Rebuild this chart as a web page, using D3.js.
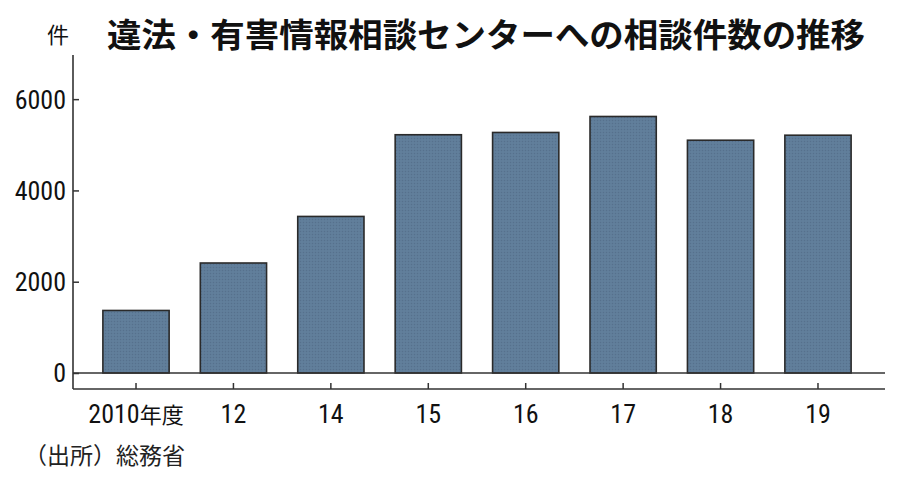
<!DOCTYPE html>
<html><head><meta charset="utf-8">
<script src="https://cdn.jsdelivr.net/npm/d3@7"></script>
<style>
html,body{margin:0;padding:0;background:#fff;}
svg{display:block;}
</style></head>
<body>
<svg id="chart" width="900" height="480"></svg>
<script>
const categories = ["2010年度","12","14","15","16","17","18","19"];
const values = [1370, 2410, 3430, 5220, 5270, 5620, 5100, 5210];
const yTicks = [0, 2000, 4000, 6000];
const title = "違法・有害情報相談センターへの相談件数の推移";
const unitLabel = "件";
const source = "（出所）総務省";

const svg = d3.select("#chart");
const numFont = "'Liberation Sans Narrow','Roboto Condensed','DejaVu Sans Condensed',sans-serif";
const jpFont = "'Noto Sans CJK JP',sans-serif";

const axisLeft = 73, axisRight = 885, axisBottom = 389;
const y = d3.scaleLinear().domain([0, 7000]).range([373, 53.5]);
const x = d3.scaleBand().domain(categories).range([87.3, 866.7]).paddingInner(0.32).paddingOuter(0.16);

// subtle dotted texture for bars
const defs = svg.append("defs");
const pat = defs.append("pattern").attr("id", "dots").attr("patternUnits", "userSpaceOnUse")
  .attr("width", 3).attr("height", 3);
pat.append("rect").attr("width", 3).attr("height", 3).attr("fill", "#5f7c99");
pat.append("rect").attr("x", 0).attr("y", 0).attr("width", 1).attr("height", 1).attr("fill", "#56718c");
pat.append("rect").attr("x", 1.5).attr("y", 1.5).attr("width", 1).attr("height", 1).attr("fill", "#6887a3");

// title
svg.append("text").attr("x", 107).attr("y", 47)
  .attr("font-family", jpFont).attr("font-weight", 700).attr("font-size", 33)
  .attr("textLength", 758).attr("lengthAdjust", "spacingAndGlyphs")
  .attr("fill", "#111").text(title);
svg.append("text").attr("x", 58).attr("y", 43).attr("text-anchor", "middle")
  .attr("font-family", jpFont).attr("font-size", 22).attr("fill", "#111").text(unitLabel);

// bars
svg.append("g").selectAll("rect").data(values).join("rect")
  .attr("x", (d, i) => x(categories[i]))
  .attr("y", d => y(d))
  .attr("width", x.bandwidth())
  .attr("height", d => y(0) - y(d))
  .attr("fill", "url(#dots)")
  .attr("stroke", "#2a2a2a").attr("stroke-width", 1.6);

// baseline at zero
svg.append("line").attr("x1", axisLeft).attr("x2", axisRight)
  .attr("y1", y(0)).attr("y2", y(0)).attr("stroke", "#333").attr("stroke-width", 1.6);

// y axis
const yAxis = d3.axisRight(y).tickValues(yTicks).tickSize(6).tickFormat("");
const gy = svg.append("g").attr("transform", `translate(${axisLeft},0)`).call(yAxis);
gy.select(".domain").remove();
gy.selectAll(".tick line").attr("stroke", "#333").attr("stroke-width", 1.5);
svg.append("line").attr("x1", axisLeft).attr("x2", axisLeft).attr("y1", 55).attr("y2", axisBottom)
  .attr("stroke", "#333").attr("stroke-width", 1.6);
svg.append("g").selectAll("text").data(yTicks).join("text")
  .attr("x", 66).attr("y", d => y(d)).attr("dy", "0.36em").attr("text-anchor", "end")
  .attr("font-family", numFont).attr("font-size", 26).attr("fill", "#111")
  .text(d => d);

// x axis
const xAxis = d3.axisTop(x).tickSize(6).tickFormat("");
const gx = svg.append("g").attr("transform", `translate(0,${axisBottom})`).call(xAxis);
gx.select(".domain").remove();
gx.selectAll(".tick line").attr("stroke", "#333").attr("stroke-width", 1.5);
svg.append("line").attr("x1", axisLeft).attr("x2", axisRight).attr("y1", axisBottom).attr("y2", axisBottom)
  .attr("stroke", "#333").attr("stroke-width", 1.6);
const xl = svg.append("g").selectAll("text").data(categories).join("text")
  .attr("x", d => x(d) + x.bandwidth() / 2).attr("y", 423).attr("text-anchor", "middle")
  .attr("font-family", numFont).attr("font-size", 26).attr("fill", "#111");
xl.each(function(d) {
  const t = d3.select(this);
  const m = d.match(/^(\d+)(.*)$/);
  t.append("tspan").text(m[1]);
  if (m[2]) t.append("tspan").attr("font-family", jpFont).attr("font-size", 22).text(m[2]);
});

// source
svg.append("text").attr("x", 24).attr("y", 464)
  .attr("font-family", jpFont).attr("font-size", 23).attr("fill", "#222").text(source);
</script>
</body></html>
